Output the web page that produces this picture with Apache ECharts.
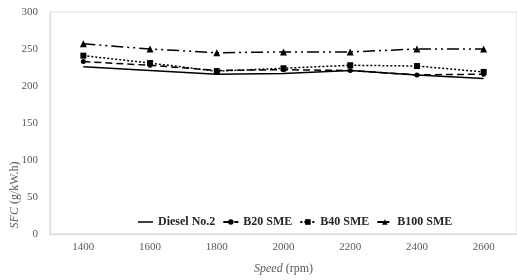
<!DOCTYPE html>
<html>
<head>
    <meta charset="UTF-8">
    <title>SFC vs Speed</title>
    <style>
        body { margin: 0; background: #fff; }
        #chart { width: 517px; height: 280px; }
    </style>
</head>
<body>
    <div id="chart"></div>
    <script src="https://cdn.jsdelivr.net/npm/echarts@6/dist/echarts.min.js"></script>
    <script>
        // data
        const speeds = ['1400', '1600', '1800', '2000', '2200', '2400', '2600'];
        const diesel = [226, 221, 216, 217, 221, 215, 210];
        const b20 = [233, 228, 221, 222, 221, 215, 216];
        const b40 = [241, 231, 220, 224, 228, 227, 219];
        const b100 = [257, 250, 245, 246, 246, 250, 250];

        const serif = '"Liberation Serif", "DejaVu Serif", serif';
        const grey = '#595959';

        function line(name, data, symbol, dash, size) {
            return {
                name: name,
                type: 'line',
                data: data,
                symbol: symbol,
                symbolSize: size,
                showSymbol: symbol !== 'none',
                itemStyle: { color: '#000' },
                lineStyle: { color: '#000', width: 1.5, type: dash },
                emphasis: { disabled: true }
            };
        }

        const chart = echarts.init(document.getElementById('chart'));
        chart.setOption({
            animation: false,
            grid: {
                left: 50, right: 0, top: 12, bottom: 41,
                show: true, borderColor: '#d9d9d9', borderWidth: 1
            },
            legend: {
                left: 133, top: 211,
                itemWidth: 15, itemHeight: 7, itemGap: 7,
                textStyle: { fontFamily: serif, fontWeight: 'bold', fontSize: 12, color: '#262626' },
                data: [
                    { name: 'Diesel No.2', icon: 'path://M0,0 L20,0 L20,2 L0,2 Z' },
                    'B20 SME', 'B40 SME', 'B100 SME'
                ]
            },
            xAxis: {
                type: 'category',
                data: speeds,
                axisLine: { lineStyle: { color: '#d9d9d9' } },
                axisTick: { show: false },
                axisLabel: { fontFamily: serif, fontSize: 11, color: grey, margin: 8 },
                name: '{i|Speed}{n| (rpm)}',
                nameLocation: 'middle',
                nameGap: 29,
                nameTextStyle: {
                    rich: {
                        i: { fontFamily: serif, fontStyle: 'italic', fontSize: 12, color: grey },
                        n: { fontFamily: serif, fontSize: 12, color: grey }
                    }
                }
            },
            yAxis: {
                type: 'value',
                min: 0, max: 300, interval: 50,
                axisLine: { show: true, lineStyle: { color: '#d9d9d9' } },
                splitLine: { show: false },
                axisLabel: { fontFamily: serif, fontSize: 11, color: grey, margin: 12 }
            },
            graphic: [{
                type: 'text',
                x: 15, y: 195,
                rotation: Math.PI / 2,
                style: {
                    text: '{i|SFC}{n| (g/kW.h)}',
                    align: 'center',
                    verticalAlign: 'middle',
                    rich: {
                        i: { fontFamily: serif, fontStyle: 'italic', fontSize: 12, fill: grey },
                        n: { fontFamily: serif, fontSize: 12, fill: grey }
                    }
                }
            }],
            series: [
                line('Diesel No.2', diesel, 'none', 'solid', 0),
                line('B20 SME', b20, 'circle', [7, 4], 5),
                line('B40 SME', b40, 'rect', [2, 2], 6),
                line('B100 SME', b100, 'triangle', [12, 4, 2, 4, 2, 4], 7)
            ]
        });
    </script>
</body>
</html>
